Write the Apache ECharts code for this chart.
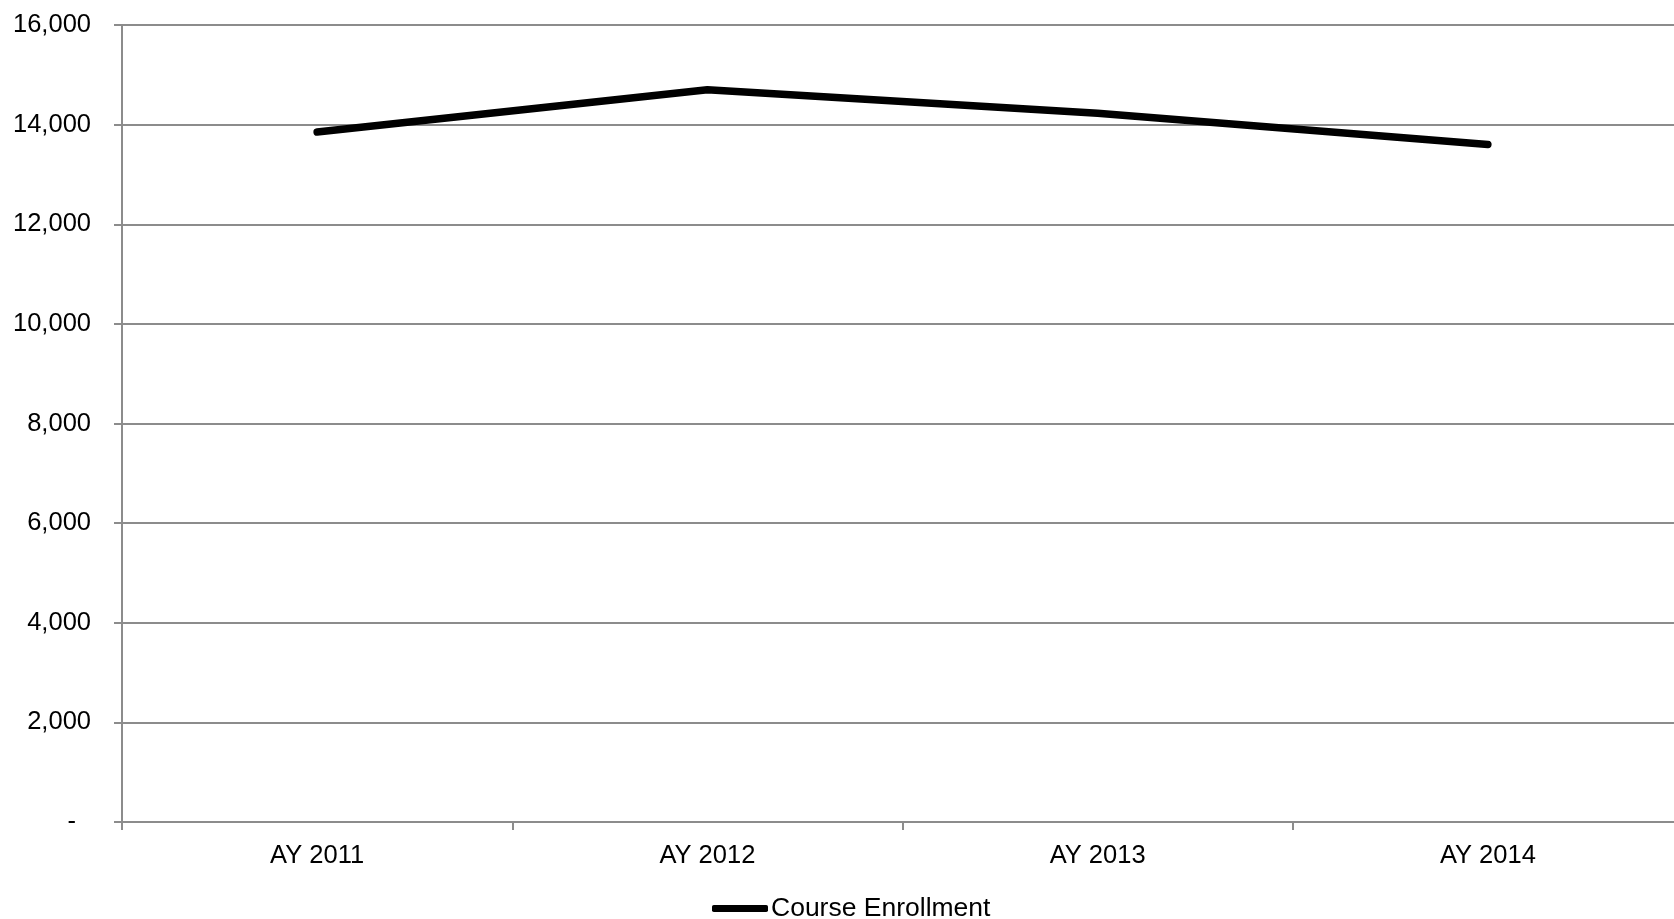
<!DOCTYPE html>
<html>
<head>
<meta charset="utf-8">
<script src="https://cdn.jsdelivr.net/npm/echarts@6/dist/echarts.min.js"></script>
<style>
  html, body { margin: 0; padding: 0; background: #ffffff; overflow: hidden; width: 1674px; height: 919px; }
  /* the canvas is a little wider than the page so the plot area runs off the right edge */
  #chart { width: 1683px; height: 919px; }
</style>
</head>
<body>
<div id="chart"></div>
<script>
// Course enrollment by academic year
const categories = ['AY 2011', 'AY 2012', 'AY 2013', 'AY 2014'];
const enrollment = [13850, 14700, 14230, 13600];
const seriesName = 'Course Enrollment';
const yMin = 0;
const yMax = 16000;
const yStep = 2000;

const FONT = '"Liberation Sans", Arial, sans-serif';
const GRID_GRAY = '#8c8c8c';

function formatTick(v) {
  if (v === 0) return '{dash|-}';
  return v.toLocaleString('en-US');
}

const chart = echarts.init(document.getElementById('chart'), null, { renderer: 'canvas' });
chart.setOption({
  backgroundColor: '#ffffff',
  animation: false,
  textStyle: { fontFamily: FONT },
  grid: { left: 122, right: 0, top: 25, bottom: 97, containLabel: false },
  legend: {
    data: [seriesName],
    left: 712,
    top: 895,
    icon: 'roundRect',
    itemWidth: 56,
    itemHeight: 7,
    itemGap: 0,
    padding: 0,
    itemStyle: { color: '#000000' },
    textStyle: { fontFamily: FONT, fontSize: 26.5, color: '#000000', padding: [0, 0, 0, -2] }
  },
  xAxis: {
    type: 'category',
    data: categories,
    boundaryGap: true,
    axisLine: { show: true, lineStyle: { color: GRID_GRAY, width: 2 } },
    axisTick: { show: true, length: 8, alignWithLabel: false, lineStyle: { color: GRID_GRAY, width: 2 } },
    axisLabel: { color: '#000000', fontSize: 25.5, fontFamily: FONT, margin: 21 },
    splitLine: { show: false }
  },
  yAxis: {
    type: 'value',
    min: yMin,
    max: yMax,
    interval: yStep,
    axisLine: { show: true, lineStyle: { color: GRID_GRAY, width: 2 } },
    axisTick: { show: true, length: 8, lineStyle: { color: GRID_GRAY, width: 2 } },
    axisLabel: {
      color: '#000000',
      fontSize: 25.5,
      fontFamily: FONT,
      margin: 31,
      formatter: formatTick,
      rich: { dash: { fontSize: 25.5, fontFamily: FONT, color: '#000000', padding: [0, 15, 0, 0] } }
    },
    splitLine: { show: true, lineStyle: { color: GRID_GRAY, width: 2 } }
  },
  series: [{
    name: seriesName,
    type: 'line',
    data: enrollment,
    smooth: false,
    symbol: 'none',
    lineStyle: { color: '#000000', width: 7.5, cap: 'round', join: 'round' },
    itemStyle: { color: '#000000' }
  }]
});
</script>
</body>
</html>
